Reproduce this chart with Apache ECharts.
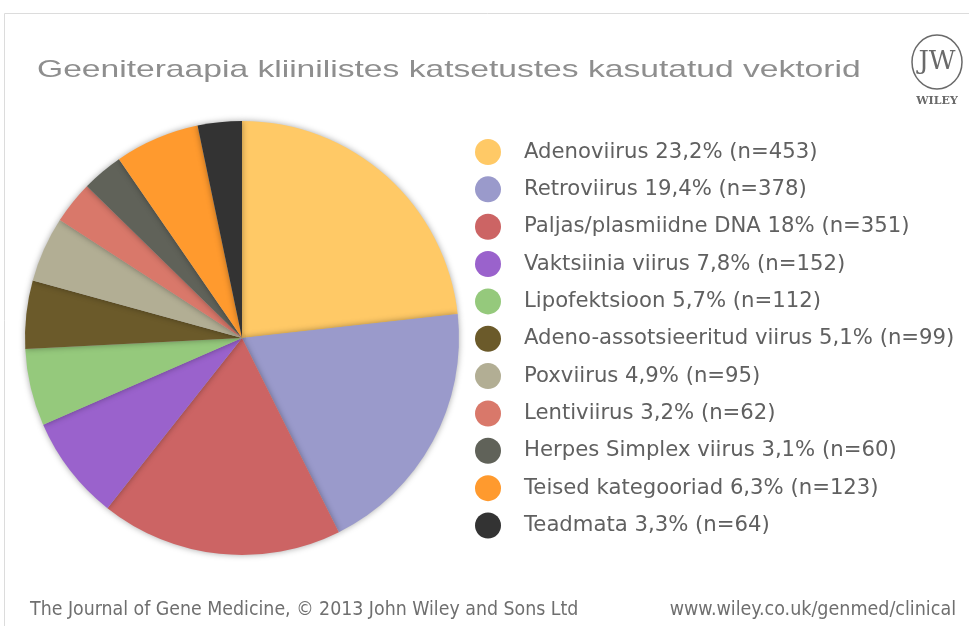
<!DOCTYPE html>
<html>
<head>
<meta charset="utf-8">
<script src="https://cdn.jsdelivr.net/npm/echarts@6/dist/echarts.min.js"></script>
<style>
  html, body { margin: 0; padding: 0; background: #fff; }
  #chart { width: 969px; height: 626px; }
</style>
</head>
<body>
<div id="chart"></div>
<script>
const names = [
  'Adenoviirus', 'Retroviirus', 'Paljas/plasmiidne DNA', 'Vaktsiinia viirus',
  'Lipofektsioon', 'Adeno-assotsieeritud viirus', 'Poxviirus', 'Lentiviirus',
  'Herpes Simplex viirus', 'Teised kategooriad', 'Teadmata'
];
const counts = [453, 378, 351, 152, 112, 99, 95, 62, 60, 123, 64];
const percents = ['23,2', '19,4', '18', '7,8', '5,7', '5,1', '4,9', '3,2', '3,1', '6,3', '3,3'];
const colors = [
  '#ffc966', '#9a9acb', '#cc6464', '#9a62cc', '#95c97c', '#6b5a2a',
  '#b2ae94', '#d9786a', '#606259', '#ff9a2e', '#333333'
];

const chart = echarts.init(document.getElementById('chart'));

chart.setOption({
  backgroundColor: '#ffffff',
  animation: false,
  color: colors,
  legend: {
    orient: 'vertical',
    left: 470,
    top: 134,
    icon: 'circle',
    itemWidth: 26,
    itemHeight: 26,
    itemGap: 11.35,
    selectedMode: false,
    textStyle: {
      color: '#606060',
      fontFamily: 'DejaVu Sans, sans-serif',
      fontSize: 21.2,
      padding: [0, 0, 0, 18]
    },
    formatter: name => {
      const i = names.indexOf(name);
      return name + ' ' + percents[i] + '% (n=' + counts[i] + ')';
    },
    data: names
  },
  graphic: [
    {
      type: 'rect',
      silent: true,
      shape: { x: 4.5, y: 13.5, width: 1200, height: 800 },
      style: { fill: 'none', stroke: '#dcdcdc', lineWidth: 1 }
    },
    {
      // title, drawn horizontally stretched like the source slide
      type: 'text',
      silent: true,
      x: 37,
      y: 58,
      scaleX: 1.4,
      style: {
        text: 'Geeniteraapia kliinilistes katsetustes kasutatud vektorid',
        fill: '#8e8e8e',
        font: '24px "Liberation Sans", Arial, sans-serif'
      }
    },
    {
      type: 'ellipse',
      silent: true,
      shape: { cx: 937, cy: 62, rx: 25, ry: 27 },
      style: { fill: 'none', stroke: '#6a6a6a', lineWidth: 1.5 }
    },
    {
      type: 'text',
      silent: true,
      x: 937,
      y: 62,
      style: {
        text: 'JW',
        fill: '#6a6a6a',
        align: 'center',
        verticalAlign: 'middle',
        font: '26px "DejaVu Serif", serif'
      }
    },
    {
      type: 'text',
      silent: true,
      x: 937,
      y: 96,
      style: {
        text: 'WILEY',
        fill: '#6a6a6a',
        align: 'center',
        font: 'bold 11px "DejaVu Serif", serif'
      }
    },
    {
      type: 'text',
      silent: true,
      x: 30,
      y: 600,
      style: {
        text: 'The Journal of Gene Medicine, \u00a9 2013 John Wiley and Sons Ltd',
        fill: '#6f6f6f',
        font: '19.35px "DejaVu Sans Condensed", sans-serif'
      }
    },
    {
      type: 'text',
      silent: true,
      x: 956,
      y: 600,
      style: {
        text: 'www.wiley.co.uk/genmed/clinical',
        fill: '#6f6f6f',
        align: 'right',
        font: '19.5px "DejaVu Sans Condensed", sans-serif'
      }
    }
  ],
  series: [
    {
      type: 'pie',
      center: [242, 338],
      radius: [0, 217],
      startAngle: 90,
      clockwise: true,
      label: { show: false },
      labelLine: { show: false },
      emphasis: { disabled: true },
      itemStyle: {
        shadowBlur: 6,
        shadowColor: 'rgba(0,0,0,0.35)'
      },
      data: names.map((n, i) => ({ name: n, value: counts[i] }))
    }
  ]
});
</script>
</body>
</html>
